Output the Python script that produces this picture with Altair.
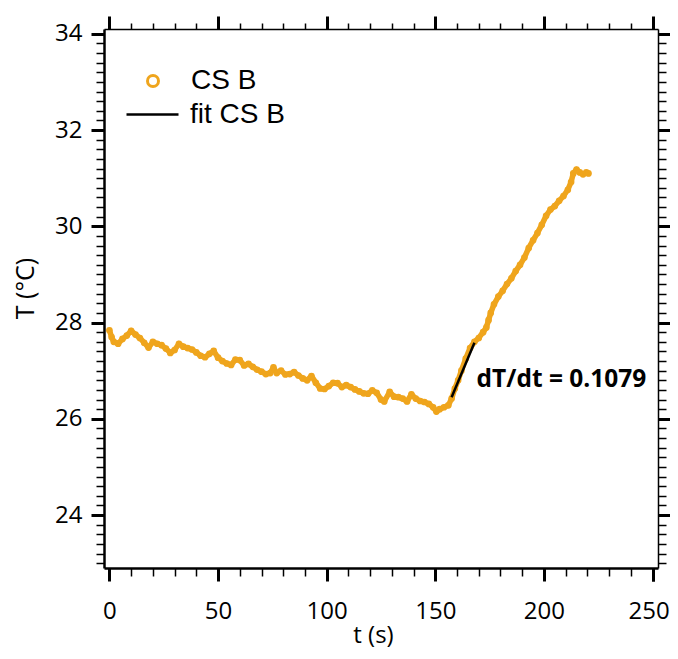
import altair as alt
import pandas as pd

ORANGE = "#EFA51D"

# measured series CS B (time in s, temperature in degC)
t_s = [0, 1, 2, 4, 6, 8, 10, 12, 14, 16, 18, 20, 22, 24, 26, 28, 30, 32, 34, 36,
       38, 40, 42, 44, 46, 48, 50, 52, 54, 56, 58, 60, 62, 64, 66, 68, 70, 72, 74,
       75.5, 77, 79, 81, 83, 85, 87, 89, 91, 93, 95, 97, 99, 101, 103, 105, 107,
       109, 111, 113, 115, 117, 119, 121, 123, 125, 126.5, 129, 131, 133, 135, 137,
       139, 141, 143, 145, 147, 149, 150.5, 152, 154, 156, 157.5, 159, 160.5, 162,
       164, 166, 168, 170, 172, 173.5, 174.5, 175.5, 177, 179, 181, 183, 185, 187,
       189, 191, 193, 195, 197, 199, 201, 203, 205, 207, 209, 211, 212.5, 213.5,
       215, 216.5, 218, 219.5, 220.5]
temp_c = [27.84, 27.70, 27.60, 27.56, 27.66, 27.73, 27.83, 27.75, 27.68, 27.58,
          27.48, 27.60, 27.56, 27.53, 27.46, 27.37, 27.43, 27.56, 27.50, 27.47,
          27.44, 27.38, 27.31, 27.28, 27.35, 27.41, 27.27, 27.20, 27.15, 27.12,
          27.23, 27.22, 27.11, 27.14, 27.08, 27.02, 26.98, 26.93, 26.95, 27.07,
          26.95, 27.00, 26.92, 26.93, 26.97, 26.90, 26.84, 26.80, 26.89, 26.75,
          26.63, 26.62, 26.68, 26.75, 26.74, 26.66, 26.70, 26.66, 26.61, 26.57,
          26.53, 26.52, 26.59, 26.54, 26.40, 26.36, 26.56, 26.46, 26.45, 26.42,
          26.36, 26.51, 26.42, 26.37, 26.35, 26.31, 26.24, 26.15, 26.20, 26.24,
          26.28, 26.42, 26.63, 26.80, 27.00, 27.25, 27.47, 27.60, 27.68, 27.80,
          27.90, 28.05, 28.20, 28.38, 28.54, 28.66, 28.80, 28.92, 29.07, 29.20,
          29.35, 29.55, 29.71, 29.86, 30.03, 30.22, 30.35, 30.42, 30.53, 30.63,
          30.76, 30.92, 31.10, 31.18, 31.12, 31.08, 31.12, 31.10]

# linear fit segment
fit_t = [157.5, 168.0]
fit_T = [26.45, 27.58]

ann_t = [169.0]
ann_T = [26.66]
ann_text = ["dT/dt = 0.1079"]

x_major = [0, 50, 100, 150, 200, 250]
x_last = [250]
x_minor = [v for v in range(0, 251, 10) if v % 50 != 0]
y_major = [24, 26, 28, 30, 32, 34]
y_minor = [round(23 + 0.2 * i, 1) for i in range(56)]
y_minor = [v for v in y_minor if abs(v - round(v)) > 1e-6 or int(round(v)) % 2 == 1]

df = pd.DataFrame({"t": t_s, "T": temp_c, "series": ["CS B"] * len(t_s)})
fit_df = pd.DataFrame({"t": fit_t, "T": fit_T, "fit": ["fit CS B"] * len(fit_t)})
ann_df = pd.DataFrame({"t": ann_t, "T": ann_T, "label": ann_text})

xscale = alt.Scale(domain=[-2.5, 252.5], nice=False, zero=False)
yscale = alt.Scale(domain=[22.9, 34.1], nice=False, zero=False)

FONT = "Open Sans"


def make_axis(orient, values, major, labels=False, title=None, domain=False,
              domain_width=1.5, **kw):
    opts = dict(
        orient=orient, values=values, grid=False,
        ticks=True, tickSize=13 if major else 8, tickWidth=3 if major else 1.5,
        tickColor="black", labels=labels, domain=domain,
        domainColor="black", domainWidth=domain_width, title=title,
    )
    opts.update(kw)
    return alt.Axis(**opts)


bottom_major = make_axis(
    "bottom", x_major, True, labels=True, title="t (s)", domain=True, domain_width=2.5,
    labelFont=FONT, labelFontSize=24, labelColor="black", labelPadding=18,
    labelFlush=False, labelOverlap=False, format="d",
    labelExpr="datum.value == 250 ? '' : datum.label",
    titleFont=FONT, titleFontSize=24, titleFontWeight="normal", titleColor="black",
    titleX=269, titleY=74, titleBaseline="alphabetic",
)
# last bottom label nudged so that it stays inside the page
bottom_last = alt.Axis(
    orient="bottom", values=x_last, grid=False, ticks=True, tickSize=13,
    tickWidth=3, tickColor="black", domain=False, labels=True,
    labelFont=FONT, labelFontSize=24, labelColor="black", labelPadding=18,
    labelFlush=False, labelOverlap=False, format="d", labelOffset=-4, title=None,
)
left_major = make_axis(
    "left", y_major, True, labels=True, title="T (°C)", domain=True, domain_width=2.5,
    labelFont=FONT, labelFontSize=24, labelColor="black", labelPadding=9,
    labelFlush=False, labelOverlap=False, format="d",
    titleFont=FONT, titleFontSize=25, titleFontWeight="normal", titleColor="black",
    titleX=-66, titleY=259,
)
bottom_minor = make_axis("bottom", x_minor, False)
left_minor = make_axis("left", y_minor, False)
top_major = make_axis("top", x_major, True, domain=True, domain_width=1.5)
right_major = make_axis("right", y_major, True, domain=True, domain_width=1.5)
top_minor = make_axis("top", x_minor, False, tickSize=6)
right_minor = make_axis("right", y_minor, False)

band = alt.Chart(df).mark_line(
    color=ORANGE, strokeWidth=5.5, strokeCap="round", strokeJoin="round"
).encode(
    x=alt.X("t:Q", scale=xscale, axis=bottom_major),
    y=alt.Y("T:Q", scale=yscale, axis=left_major),
)

pts = alt.Chart(df).mark_point(filled=False, size=20, strokeWidth=2.2, opacity=1).encode(
    x=alt.X("t:Q", scale=xscale, axis=bottom_minor),
    y=alt.Y("T:Q", scale=yscale, axis=left_minor),
    color=alt.Color(
        "series:N",
        scale=alt.Scale(domain=["CS B"], range=[ORANGE]),
        legend=alt.Legend(
            orient="none", legendX=35, legendY=38, title=None, padding=0,
            symbolType="circle", symbolSize=121, symbolStrokeWidth=3,
            labelFont="Liberation Sans", labelFontSize=28, labelColor="black",
            labelOffset=24,
        ),
    ),
)

fit = alt.Chart(fit_df).mark_line(strokeWidth=2.5).encode(
    x=alt.X("t:Q", scale=xscale, axis=top_major),
    y=alt.Y("T:Q", scale=yscale, axis=right_major),
    stroke=alt.Stroke(
        "fit:N",
        scale=alt.Scale(domain=["fit CS B"], range=["black"]),
        legend=alt.Legend(
            orient="none", legendX=21, legendY=58, title=None, padding=0,
            symbolType="stroke", symbolSize=2704, symbolStrokeWidth=2.5,
            labelFont="Liberation Sans", labelFontSize=28, labelColor="black",
            labelOffset=10,
        ),
    ),
)

ann = alt.Chart(ann_df).mark_text(
    align="left", baseline="alphabetic", font=FONT, fontWeight="bold",
    fontSize=24.5, color="black"
).encode(
    x=alt.X("t:Q", scale=xscale, axis=top_minor),
    y=alt.Y("T:Q", scale=yscale, axis=right_minor),
    text="label:N",
)

# carrier layer for the nudged last x label
last_lbl = alt.Chart(ann_df).mark_point(opacity=0).encode(
    x=alt.X("t:Q", scale=xscale, axis=bottom_last),
    y=alt.Y("T:Q", scale=yscale, axis=None),
)

chart = alt.layer(band, pts, fit, ann, last_lbl).resolve_axis(
    x="independent", y="independent"
).resolve_legend(color="independent", stroke="independent").properties(
    width=554, height=539,
    padding={"left": 96, "top": 21, "right": 12, "bottom": 80},
    autosize=alt.AutoSizeParams(type="none"),
    background="white",
).configure_view(stroke="transparent")

chart.save("out.html", embed_options={"renderer": "svg", "actions": False})
